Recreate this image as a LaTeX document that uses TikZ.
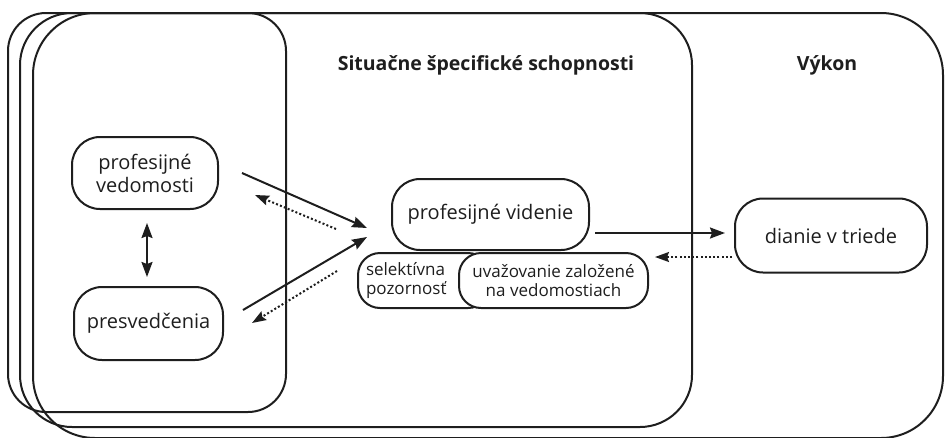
\documentclass[tikz,border=0pt]{standalone}
\usepackage{fontspec}
\setmainfont{Open Sans}
\usetikzlibrary{arrows.meta}
\definecolor{ink}{HTML}{1E1E1E}
\begin{document}
\begin{tikzpicture}[x=1pt,y=-1pt,
  frame/.style={draw=ink, line width=2pt, rounded corners=#1},
  box/.style={draw=ink, line width=2pt, rounded corners=28pt, align=center, inner sep=0pt, fill=white,
    text=ink, font=\fontsize{20}{23}\selectfont},
  smallbox/.style={draw=ink, line width=2pt, rounded corners=22pt, inner sep=0pt, fill=white,
    text=ink, font=\fontsize{17}{19}\selectfont, minimum height=55pt},
  title/.style={text=ink, font=\bfseries\fontsize{19.5}{22}\selectfont, inner sep=0pt},
  arr/.style={draw=ink, line width=2pt, -{Stealth[length=15pt,width=11pt,inset=2pt]}},
  darr/.style={draw=ink, line width=2pt, {Stealth[length=15pt,width=11pt,inset=2pt]}-{Stealth[length=15pt,width=11pt,inset=2pt]}},
  dotarr/.style={draw=ink, line width=2pt, dash pattern=on 2pt off 2.2pt, -{Stealth[length=14pt,width=10pt,inset=2pt]}}
]
\useasboundingbox (0,0) rectangle (945,437);
% stacked frames
\draw[frame=38pt] (8,13) rectangle (286,412);
\draw[frame=52pt] (20,13) rectangle (692,427);
\draw[frame=62pt] (33,13) rectangle (943,438);
% titles
\node[title] (t1) at (486,65) {Situačne špecifické schopnosti};
\node[title] (t2) at (827,65) {Výkon};
% nodes
\node[box, minimum width=146pt, minimum height=72pt] (pv) at (145,173) {profesijné\\vedomosti};
\node[box, minimum width=149pt, minimum height=73pt] (pr) at (148.5,323.5) {presvedčenia};
\node[box, minimum width=197pt, minimum height=71pt] (vid) at (490.5,214.5) {profesijné videnie};
\node[smallbox, minimum width=132pt, text width=116pt, inner xsep=8pt, align=left] (sel) at (424,280.5) {selektívna\\pozornosť};
\node[smallbox, minimum width=189pt, align=center] (uva) at (553.5,280.5) {uvažovanie založené\\na vedomostiach};
\node[box, minimum width=192pt, minimum height=74pt] (dia) at (831,235.5) {dianie v triede};
% arrow end points
\coordinate (a1s) at (242,173); \coordinate (a1e) at (367,228);
\coordinate (a2s) at (243,310); \coordinate (a2e) at (367,237);
\coordinate (a3s) at (595,233); \coordinate (a3e) at (725,233);
\coordinate (d1s) at (336,229); \coordinate (d1e) at (255,195);
\coordinate (d2s) at (337,271); \coordinate (d2e) at (252,323);
\coordinate (d3s) at (732,257); \coordinate (d3e) at (655,257);
\coordinate (v1) at (147,223); \coordinate (v2) at (147,277);
% connectors
\draw[arr] (a1s) -- (a1e);
\draw[arr] (a2s) -- (a2e);
\draw[arr] (a3s) -- (a3e);
\draw[dotarr] (d1s) -- (d1e);
\draw[dotarr] (d2s) -- (d2e);
\draw[dotarr] (d3s) -- (d3e);
\draw[darr] (v1) -- (v2);
\end{tikzpicture}
\end{document}
